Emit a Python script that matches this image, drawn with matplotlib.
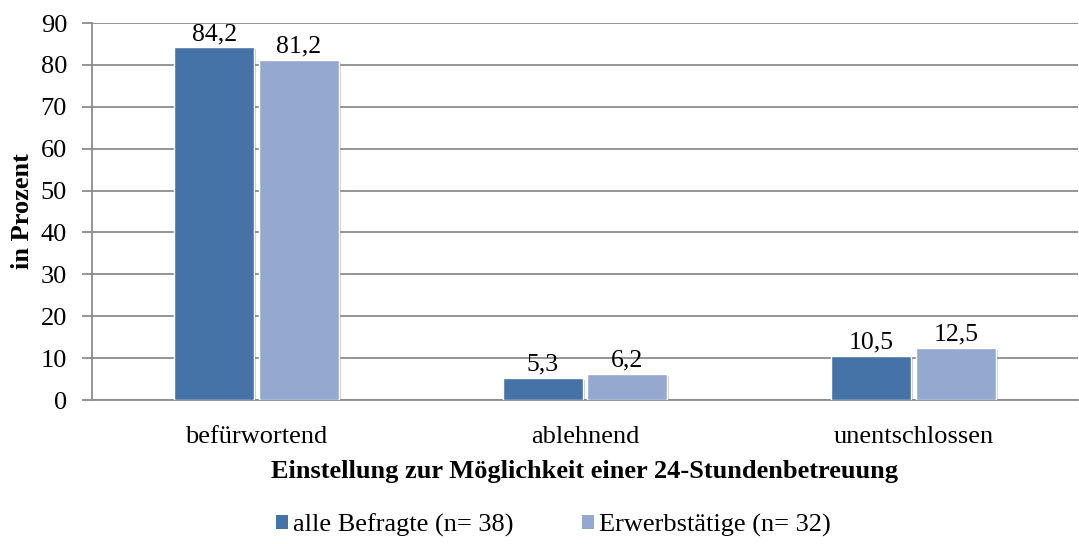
import matplotlib.pyplot as plt
import matplotlib.patheffects as pe
from matplotlib.patches import Rectangle
import numpy as np

categories = ['befürwortend', 'ablehnend', 'unentschlossen']
alle_befragte = [84.2, 5.3, 10.5]
erwerbstaetige = [81.2, 6.2, 12.5]
series_labels = ['alle Befragte (n= 38)', 'Erwerbstätige (n= 32)']
colors = ['#4573A7', '#95A9D0']

plt.rcParams['font.family'] = ['Liberation Serif', 'DejaVu Serif']

fig = plt.figure(figsize=(10.79, 5.44), dpi=100)
ax = fig.add_axes([0.0853, 0.2647, 0.9137, 0.693])

x = np.arange(len(categories))
w = 0.243
gap = 0.014
shadow = [pe.SimplePatchShadow(offset=(1.5, -1.5), alpha=0.25), pe.Normal()]

for vals, off, col in [(alle_befragte, -(w + gap) / 2, colors[0]),
                       (erwerbstaetige, (w + gap) / 2, colors[1])]:
    bars = ax.bar(x + off, vals, width=w, color=col, edgecolor='white',
                  linewidth=1.0, zorder=3)
    for b in bars:
        b.set_path_effects(shadow)
    for xi, v in zip(x + off, vals):
        ax.text(xi, v + 0.5, f'{v:.1f}'.replace('.', ','), ha='center', va='bottom',
                fontsize=18.5, zorder=4)

ax.set_xlim(-0.5, 2.5)
ax.set_ylim(0, 90)
ax.set_yticks(range(0, 91, 10))
ax.set_xticks(x)
ax.set_xticklabels(categories)
ax.yaxis.grid(True, color='#8c8c8c', linewidth=1.3, zorder=0)
ax.set_axisbelow(True)

for s in ['top', 'right']:
    ax.spines[s].set_visible(False)
for s in ['left', 'bottom']:
    ax.spines[s].set_color('#8c8c8c')
    ax.spines[s].set_linewidth(1.3)

ax.tick_params(axis='y', length=7, width=1.3, color='#8c8c8c', labelsize=19, pad=11)
ax.tick_params(axis='x', length=0, labelsize=19, pad=19)

ax.set_ylabel('in Prozent', fontsize=19, fontweight='bold', labelpad=5)
ax.set_xlabel('Einstellung zur Möglichkeit einer 24-Stundenbetreuung',
              fontsize=19, fontweight='bold', labelpad=8)

handles = [Rectangle((0, 0), 1, 1, facecolor=c, edgecolor='none') for c in colors]
fig.legend(handles, series_labels, loc='lower center', bbox_to_anchor=(0.513, -0.03),
           ncol=2, frameon=False, fontsize=19, handlelength=0.45, handleheight=0.45,
           handletextpad=0.2, columnspacing=2.6)

fig.savefig('out.png', dpi=100)
